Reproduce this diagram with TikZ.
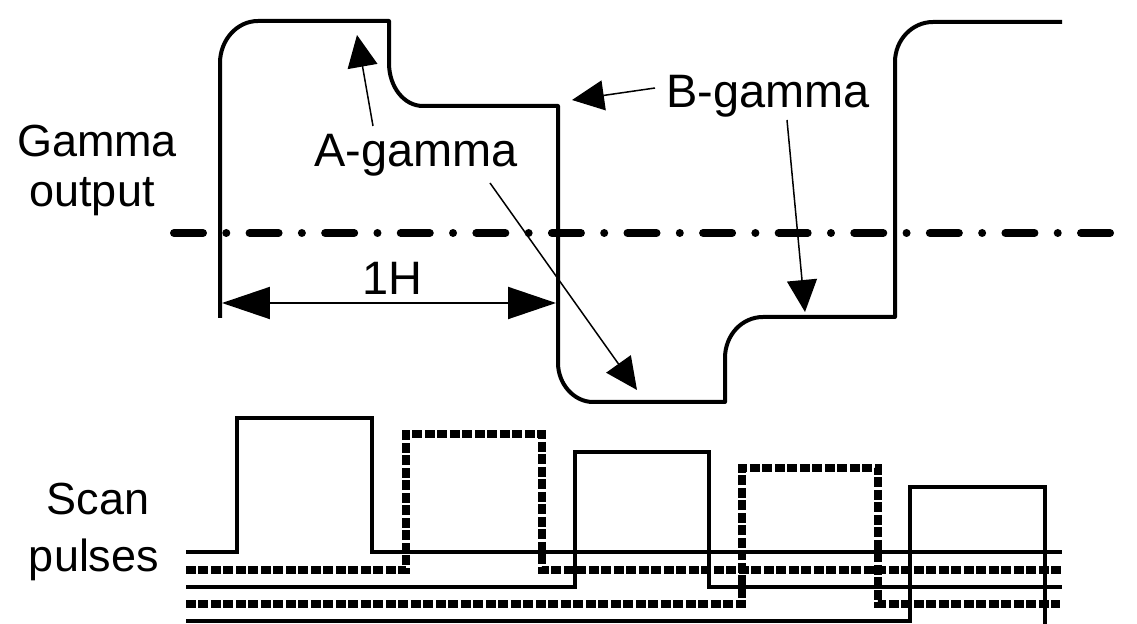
\documentclass[tikz,border=0pt]{standalone}
\usepackage{fontspec}
\setmainfont{Liberation Sans}
\usetikzlibrary{arrows.meta}

\begin{document}
\begin{tikzpicture}[x=0.02cm, y=-0.02cm,
  wave/.style={line width=0.08cm, line join=round},
  pulse/.style={line width=0.08cm},
  dpulse/.style={line width=0.16cm, dash pattern=on 0.2cm off 0.05cm},
  axis/.style={line width=0.16cm, line cap=round, dash pattern=on 0.58cm off 0.466cm on 0cm off 0.466cm},
  ptr/.style={line width=0.03cm, -{Triangle[length=0.64cm, width=0.6cm]}},
  dim/.style={line width=0.04cm, {Triangle[length=0.96cm, width=0.64cm]}-{Triangle[length=0.96cm, width=0.64cm]}},
  lbl/.style={font=\fontsize{25.6}{30}\selectfont, inner sep=0pt, anchor=base},
  tag/.style={font=\fontsize{26.7}{30}\selectfont, inner sep=0pt, anchor=base}]
\useasboundingbox (0,0) rectangle (1137,624);

% row labels
\node[lbl] (gam) at (97,157) {Gamma};
\node[lbl] (outp) at (92,207) {output};
\node[lbl] (scan) at (98,515) {Scan};
\node[lbl] (puls) at (94,572) {pulses};

% gamma output
\draw[wave] (220,318) -- (220,63) .. controls (220,40) and (237,21) .. (258,21) -- (389,21)
  -- (389,63) .. controls (389,87) and (404,106) .. (423,106) -- (558,106)
  -- (558,363) .. controls (558,384) and (574,402) .. (593,402) -- (725,402)
  -- (725,358) .. controls (725,335) and (742,317) .. (763,317) -- (895,317)
  -- (895,62) .. controls (895,40) and (912,22) .. (933,22) -- (1062,22);
\draw[axis] (174,233) -- (1133,233);

% 1H
\coordinate (hl) at (222,303);
\coordinate (hr) at (556,303);
\draw[dim] (hl) -- (hr);
\node[tag] (oneh) at (392,295) {1H};

% callouts
\node[tag] (agam) at (416,167) {A-gamma};
\node[tag] (bgam) at (768,108) {B-gamma};
\coordinate (a1s) at (373,126);
\coordinate (a1t) at (357,35);
\coordinate (a2s) at (490,183);
\coordinate (a2t) at (637,390);
\coordinate (b1s) at (655,88);
\coordinate (b1t) at (572,100);
\coordinate (b2s) at (787,120);
\coordinate (b2t) at (805,312);
\draw[ptr] (a1s) -- (a1t);
\draw[ptr] (a2s) -- (a2t);
\draw[ptr] (b1s) -- (b1t);
\draw[ptr] (b2s) -- (b2t);

% scan pulses
\draw[pulse] (186,552) -- (237,552) -- (237,418) -- (372,418) -- (372,552) -- (1062,552);
\draw[dpulse] (186,570) -- (406,570) -- (406,434) -- (542,434) -- (542,570) -- (1062,570);
\draw[pulse] (186,587) -- (575,587) -- (575,452) -- (709,452) -- (709,587) -- (1062,587);
\draw[dpulse] (186,604) -- (742,604) -- (742,468) -- (878,468) -- (878,604) -- (1060,604);
\draw[pulse] (186,621) -- (910,621) -- (910,487) -- (1045,487) -- (1045,624);
\end{tikzpicture}
\end{document}
